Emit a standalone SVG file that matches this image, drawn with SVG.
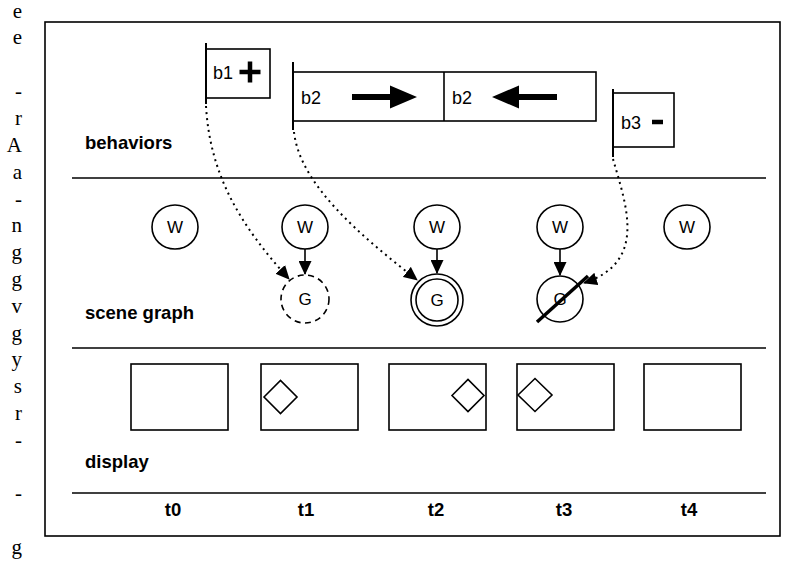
<svg xmlns="http://www.w3.org/2000/svg" width="797" height="564" viewBox="0 0 797 564">
<style>
.ln{stroke:#000;stroke-width:1.6;fill:none}
.box{stroke:#000;stroke-width:1.6;fill:#fff}
.pole{stroke:#000;stroke-width:2;fill:none}
.dot{stroke:#000;stroke-width:2;fill:none;stroke-dasharray:2 4}
.lbl{font-family:"Liberation Sans",Arial,sans-serif;font-weight:bold;font-size:18.5px;fill:#000}
.reg{font-family:"Liberation Sans",Arial,sans-serif;font-size:18px;fill:#000}
.nd{font-family:"Liberation Sans",Arial,sans-serif;font-size:17px;fill:#000;text-anchor:middle}
.frag{font-family:"Liberation Serif","Times New Roman",serif;font-size:21px;fill:#000;text-anchor:end}
</style>
<defs>
<marker id="ah" markerUnits="userSpaceOnUse" markerWidth="14" markerHeight="13" refX="13" refY="6.5" orient="auto">
<path d="M0,0 L14,6.5 L0,13 z" fill="#000"/>
</marker>
</defs>
<rect width="797" height="564" fill="#fff"/>
<g id="page-fragments">
<text class="frag" x="22" y="18">e</text>
<text class="frag" x="22" y="44">e</text>
<text class="frag" x="22" y="98">-</text>
<text class="frag" x="22" y="125">r</text>
<text class="frag" x="22" y="152">A</text>
<text class="frag" x="22" y="179">a</text>
<text class="frag" x="22" y="206">-</text>
<text class="frag" x="22" y="232">n</text>
<text class="frag" x="22" y="259">g</text>
<text class="frag" x="22" y="286">g</text>
<text class="frag" x="22" y="313">v</text>
<text class="frag" x="22" y="340">g</text>
<text class="frag" x="22" y="366">y</text>
<text class="frag" x="22" y="393">s</text>
<text class="frag" x="22" y="420">r</text>
<text class="frag" x="22" y="447">-</text>
<text class="frag" x="22" y="500">-</text>
<text class="frag" x="22" y="554">g</text>
</g>
<g id="frame">
<rect x="45" y="22" width="735" height="514" class="ln"/>
<line x1="72" y1="178" x2="766" y2="178" class="ln"/>
<line x1="72" y1="348" x2="766" y2="348" class="ln"/>
<line x1="72" y1="493" x2="766" y2="493" class="ln"/>
<text class="lbl" x="85" y="149">behaviors</text>
<text class="lbl" x="85" y="319">scene graph</text>
<text class="lbl" x="85" y="468">display</text>
<text class="lbl" x="173" y="516" text-anchor="middle">t0</text>
<text class="lbl" x="306" y="516" text-anchor="middle">t1</text>
<text class="lbl" x="436" y="516" text-anchor="middle">t2</text>
<text class="lbl" x="564" y="516" text-anchor="middle">t3</text>
<text class="lbl" x="689" y="516" text-anchor="middle">t4</text>
</g>
<g id="b1">
<rect x="206" y="49" width="64" height="49" class="box"/>
<line x1="206" y1="43" x2="206" y2="104" class="pole"/>
<text class="reg" x="213" y="79">b1</text>
<path d="M239.5,72 h21 M250,61.5 v21" stroke="#000" stroke-width="4.5"/>
</g>
<g id="b2">
<rect x="293" y="72" width="303" height="49" class="box"/>
<line x1="444" y1="72" x2="444" y2="121" class="ln"/>
<line x1="293" y1="62" x2="293" y2="130" class="pole"/>
<text class="reg" x="301" y="104">b2</text>
<path d="M352,94 h38 v-8.5 l27,11.5 l-27,11.5 v-8.5 h-38 z" fill="#000"/>
<text class="reg" x="452" y="104">b2</text>
<path d="M557,94 h-38 v-8.5 l-27,11.5 l27,11.5 v-8.5 h38 z" fill="#000"/>
</g>
<g id="b3">
<rect x="613" y="93" width="61" height="54" class="box"/>
<line x1="613" y1="89" x2="613" y2="157" class="pole"/>
<text class="reg" x="621" y="129">b3</text>
<line x1="652" y1="122" x2="663" y2="122" stroke="#000" stroke-width="4.5"/>
</g>
<g id="w0"><ellipse cx="175" cy="227" rx="23" ry="22" class="ln"/><text class="nd" x="175" y="233">W</text></g>
<g id="w1"><ellipse cx="305" cy="227" rx="23" ry="22" class="ln"/><text class="nd" x="305" y="233">W</text></g>
<g id="w2"><ellipse cx="437" cy="227" rx="23" ry="22" class="ln"/><text class="nd" x="437" y="233">W</text></g>
<g id="w3"><ellipse cx="560" cy="227" rx="23" ry="22" class="ln"/><text class="nd" x="560" y="233">W</text></g>
<g id="w4"><ellipse cx="687" cy="227" rx="23" ry="22" class="ln"/><text class="nd" x="687" y="233">W</text></g>
<g id="g1"><circle cx="305" cy="299" r="24" class="ln" stroke-dasharray="6 4.5"/><text class="nd" x="305" y="305">G</text></g>
<g id="g2"><circle cx="437" cy="300" r="26" class="ln"/><circle cx="437" cy="300" r="21" class="ln"/><text class="nd" x="437" y="306">G</text></g>
<g id="g3"><circle cx="560" cy="299" r="23" class="ln"/><text class="nd" x="560" y="305">G</text><line x1="537" y1="322" x2="588" y2="276" stroke="#000" stroke-width="3.5"/></g>
<g id="d0"><rect x="131" y="364" width="97" height="66" class="ln" stroke-width="2"/></g>
<g id="d1"><rect x="261" y="364" width="97" height="66" class="ln" stroke-width="2"/><path d="M264,397 L280.5,380.5 L297,397 L280.5,413.5 z" class="ln" stroke-width="2"/></g>
<g id="d2"><rect x="389" y="364" width="97" height="66" class="ln" stroke-width="2"/><path d="M452,395.5 L468,379.5 L484,395.5 L468,411.5 z" class="ln" stroke-width="2"/></g>
<g id="d3"><rect x="517" y="364" width="97" height="66" class="ln" stroke-width="2"/><path d="M518,395 L535,378.5 L552,395 L535,411.5 z" class="ln" stroke-width="2"/></g>
<g id="d4"><rect x="644" y="364" width="97" height="66" class="ln" stroke-width="2"/></g>
<g id="connectors">
<line x1="305" y1="249" x2="305" y2="274" class="ln" marker-end="url(#ah)"/>
<line x1="437" y1="249" x2="437" y2="273" class="ln" marker-end="url(#ah)"/>
<line x1="560" y1="249" x2="560" y2="275" class="ln" marker-end="url(#ah)"/>
<path d="M206,106 C210,175 240,225 289,279" class="dot" marker-end="url(#ah)"/>
<path d="M294,132 C300,185 360,235 417,280" class="dot" marker-end="url(#ah)"/>
<path d="M613,159 C626,205 648,262 584,283" class="dot" marker-end="url(#ah)"/>
</g>
</svg>
